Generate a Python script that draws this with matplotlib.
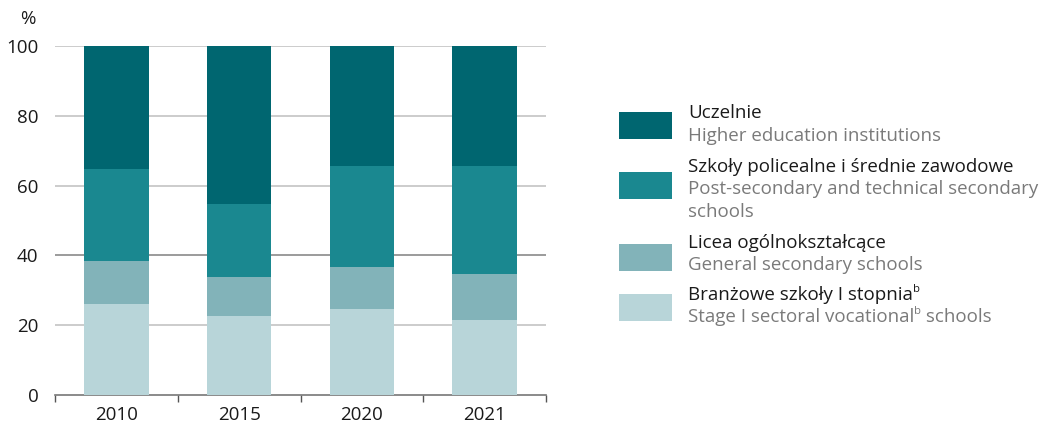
import matplotlib
matplotlib.use("Agg")
import matplotlib.pyplot as plt
from matplotlib.patches import Rectangle
import numpy as np

plt.rcParams['font.family'] = ['Open Sans', 'DejaVu Sans']

years = ["2010", "2015", "2020", "2021"]
branzowe = [26.0, 22.6, 24.5, 21.5]
licea = [12.4, 11.3, 12.2, 13.1]
policealne = [26.3, 20.8, 28.9, 31.0]
uczelnie = [35.3, 45.3, 34.4, 34.4]

series = [branzowe, licea, policealne, uczelnie]
colors = ["#b8d5d9", "#82b3b9", "#1a8890", "#006670"]
# each label: list of lines; each line: list of (text, is_superscript)
labels_pl = [[[("Branżowe szkoły I stopnia", False), ("b", True)]],
             [[("Licea ogólnokształcące", False)]],
             [[("Szkoły policealne i średnie zawodowe", False)]],
             [[("Uczelnie", False)]]]
labels_en = [[[("Stage I sectoral vocational", False), ("b", True), (" schools", False)]],
             [[("General secondary schools", False)]],
             [[("Post-secondary and technical secondary", False)], [("schools", False)]],
             [[("Higher education institutions", False)]]]

W, H = 1046, 425
FS = 13.5
fig = plt.figure(figsize=(W / 100, H / 100), dpi=100)
ax = fig.add_axes([55 / W, 1 - 395 / H, (546 - 55) / W, (395 - 46) / H])

x = np.arange(len(years))
bottom = np.zeros(len(years))
for vals, c in zip(series, colors):
    ax.bar(x, vals, bottom=bottom, width=0.525, color=c, zorder=3, linewidth=0)
    bottom += np.array(vals)

ax.set_xlim(-0.5, len(years) - 0.5)
ax.set_ylim(0, 100)
ax.set_yticks([0, 20, 40, 60, 80, 100])
for yv in [20, 40, 60, 80, 100]:
    ax.axhline(yv, color="#8a8a8a" if yv == 40 else "#c4c4c4", lw=1.2, zorder=1)
for s in ["top", "right", "left"]:
    ax.spines[s].set_visible(False)
ax.spines["bottom"].set_color("#777777")
ax.spines["bottom"].set_linewidth(1.2)
ax.set_xticks(x)
ax.set_xticklabels(years)
ax.set_xticks(np.arange(-0.5, len(years)), minor=True)
ax.tick_params(axis="x", which="major", length=0, labelsize=FS, pad=8, colors="#1a1a1a")
ax.tick_params(axis="x", which="minor", length=5, width=1, color="#555555")
ax.tick_params(axis="y", length=0, labelsize=FS, pad=12, colors="#1a1a1a")
fig.text(28 / W, 1 - 19 / H, "%", ha="center", va="center", fontsize=FS, color="#1a1a1a")

renderer = fig.canvas.get_renderer()


def draw_line(x0, yc, parts, color):
    xp = x0
    for txt, sup in parts:
        if sup:
            t = fig.text(xp / W, 1 - (yc - 6) / H, txt, ha="left", va="center",
                         fontsize=FS * 0.6, color=color)
        else:
            t = fig.text(xp / W, 1 - yc / H, txt, ha="left", va="center",
                         fontsize=FS, color=color)
        bb = t.get_window_extent(renderer)
        xp += bb.width


# legend (top to bottom)
patch_tops = [111.7, 171.7, 244, 294]
pl_y = [113, 167, 243, 295]
en_y = [136, 189, 265, 317]
LSTEP = 23
order = [3, 2, 1, 0]
for i, k in enumerate(order):
    fig.patches.append(Rectangle((619 / W, 1 - (patch_tops[i] + 27) / H), 53 / W, 27 / H,
                                 transform=fig.transFigure, color=colors[k], linewidth=0))
    for j, line in enumerate(labels_pl[k]):
        draw_line(688, pl_y[i] + j * LSTEP, line, "#1a1a1a")
    for j, line in enumerate(labels_en[k]):
        draw_line(688, en_y[i] + j * LSTEP, line, "#7a7a7a")

fig.savefig("out.png", dpi=100)
